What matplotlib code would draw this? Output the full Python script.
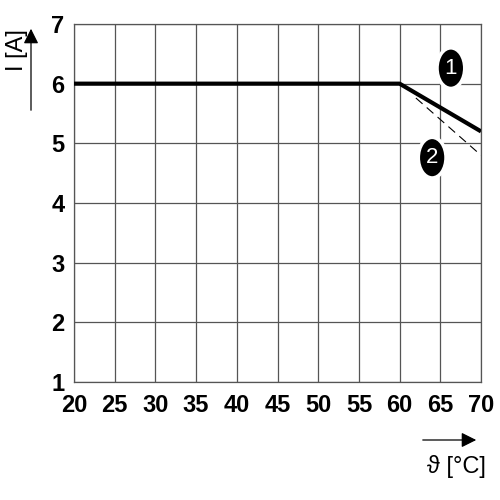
import matplotlib
matplotlib.use("Agg")
import matplotlib.pyplot as plt
from matplotlib.patches import Ellipse, FancyArrowPatch

temps = [20, 60, 70]
curve1 = [6, 6, 5.2]
curve2_x = [62, 70]
curve2_y = [5.76, 4.8]
xticks = [20, 25, 30, 35, 40, 45, 50, 55, 60, 65, 70]
yticks = [1, 2, 3, 4, 5, 6, 7]

fam = ['Liberation Sans', 'DejaVu Sans']
fig = plt.figure(figsize=(5, 5), dpi=100)
ax = fig.add_axes([0.148, 0.236, 0.814, 0.716])
ax.set_xlim(20, 70)
ax.set_ylim(1, 7)
ax.set_xticks(xticks)
ax.set_yticks(yticks)
ax.grid(True, color='#555555', linewidth=0.9)
for s in ax.spines.values():
    s.set_color('#555555')
    s.set_linewidth(0.9)
ax.tick_params(axis='x', length=0, pad=9)
ax.tick_params(axis='y', length=0, pad=7)
for lbl in ax.get_xticklabels() + ax.get_yticklabels():
    lbl.set_family(fam)
    lbl.set_fontweight('bold')
    lbl.set_fontsize(17)

ax.plot(temps, curve1, color='black', linewidth=3, solid_capstyle='butt', zorder=3)
ax.plot(curve2_x, curve2_y, color='black', linewidth=0.8, dashes=(8, 5), zorder=3)

for (cx, cy, t) in [(66.3, 6.26, '1'), (64.0, 4.76, '2')]:
    e = Ellipse((cx, cy), 3.4, 0.68, facecolor='black', edgecolor='white', linewidth=2.5, zorder=5, clip_on=False)
    ax.add_patch(e)
    ax.text(cx, cy, t, color='white', ha='center', va='center', fontsize=16, family=fam, zorder=6)

# axis labels and arrows
fig.text(0.033, 0.9, 'I [A]', rotation=90, ha='center', va='center', fontsize=17, family=fam)
fig.add_artist(FancyArrowPatch((0.062, 0.774), (0.062, 0.948), transform=fig.transFigure,
                               arrowstyle='-|>,head_length=6,head_width=3', color='black', linewidth=0.9, mutation_scale=1.5))
fig.add_artist(FancyArrowPatch((0.84, 0.12), (0.958, 0.12), transform=fig.transFigure,
                               arrowstyle='-|>,head_length=6,head_width=3', color='black', linewidth=0.9, mutation_scale=1.5))
fig.text(0.912, 0.066, 'ϑ [°C]', ha='center', va='center', fontsize=17, family=fam)

fig.savefig('out.png', dpi=100)
